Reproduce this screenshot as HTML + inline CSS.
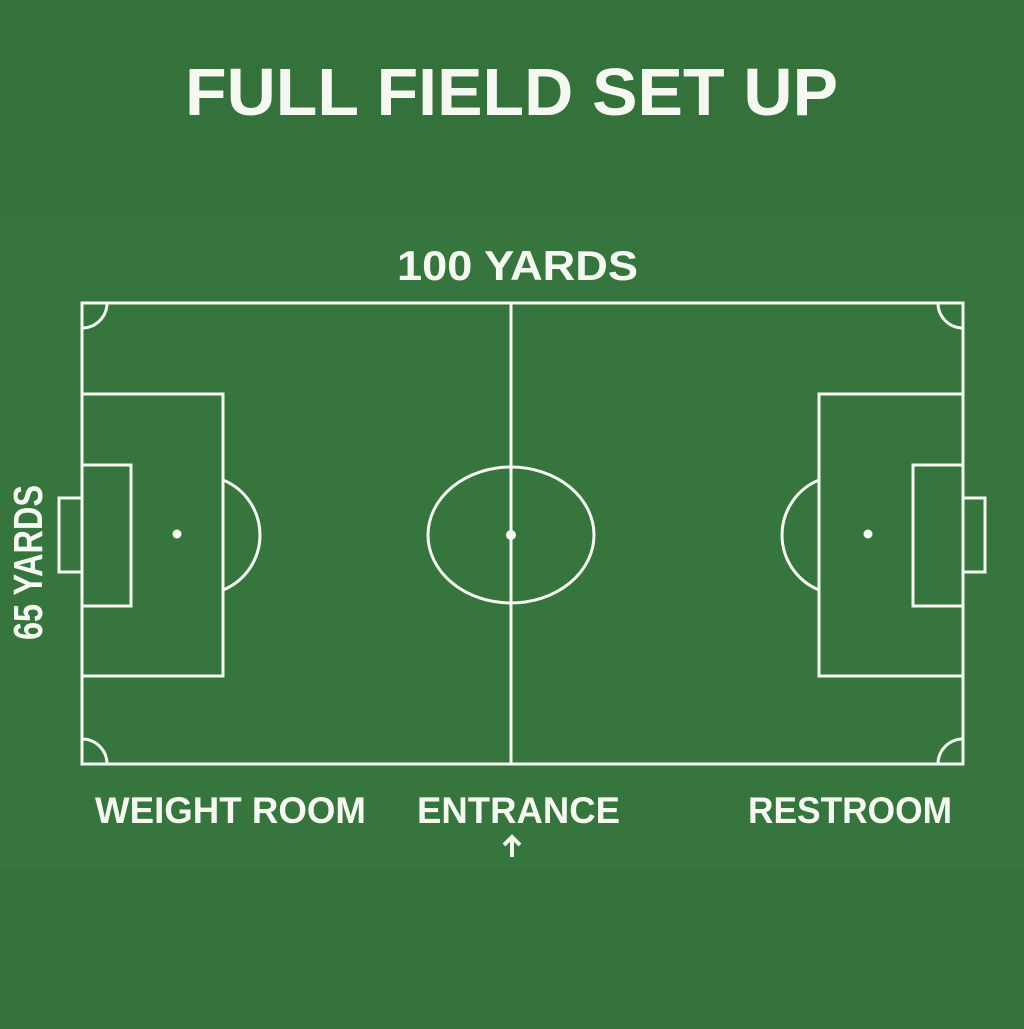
<!DOCTYPE html>
<html><head><style>html,body{margin:0;padding:0;background:#34723b}</style></head>
<body>
<svg width="1024" height="1024" viewBox="0 0 1024 1024" xmlns="http://www.w3.org/2000/svg">
<rect width="1024" height="1024" fill="#34713b"/>
<rect x="0" y="215" width="1024" height="655" fill="#36753d"/>
<g font-family="Liberation Sans, sans-serif" font-weight="bold" fill="#f4f8f1">
<text x="185" y="115" font-size="67" textLength="653" lengthAdjust="spacingAndGlyphs">FULL FIELD SET UP</text>
<text x="397" y="280" font-size="42" textLength="241" lengthAdjust="spacingAndGlyphs">100 YARDS</text>
<text x="95" y="823" font-size="37" textLength="271" lengthAdjust="spacingAndGlyphs">WEIGHT ROOM</text>
<text x="417" y="823" font-size="37" textLength="203" lengthAdjust="spacingAndGlyphs">ENTRANCE</text>
<text x="748" y="823" font-size="37" textLength="204" lengthAdjust="spacingAndGlyphs">RESTROOM</text>
<text transform="translate(42,640) rotate(-90)" font-size="41" textLength="155" lengthAdjust="spacingAndGlyphs">65 YARDS</text>
</g>
<g fill="none" stroke="#f4f8f1" stroke-width="3">
<rect x="82" y="303" width="881" height="461"/>
<line x1="511" y1="303" x2="511" y2="764"/>
<ellipse cx="511" cy="535" rx="83" ry="68"/>
<rect x="82" y="394" width="141" height="282"/>
<rect x="82" y="465" width="49" height="141"/>
<rect x="59" y="498" width="23" height="74"/>
<path d="M223 480 A59.4 59.4 0 0 1 223 590"/>
<rect x="819" y="394" width="144" height="282"/>
<rect x="913" y="465" width="50" height="141"/>
<rect x="963" y="498" width="22" height="74"/>
<path d="M819 480 A59.4 59.4 0 0 0 819 590"/>
<path d="M107 303 A25 25 0 0 1 82 328"/>
<path d="M938 303 A25 25 0 0 0 963 328"/>
<path d="M82 739 A25 25 0 0 1 107 764"/>
<path d="M963 739 A25 25 0 0 0 938 764"/>
<path d="M512 857 L512 837 M504 845 L512 837 L520 845" stroke-width="4"/>
</g>
<g fill="#f4f8f1">
<circle cx="511" cy="535" r="5"/>
<circle cx="177" cy="534" r="4.5"/>
<circle cx="868" cy="534" r="4.5"/>
</g>
</svg>
</body></html>
